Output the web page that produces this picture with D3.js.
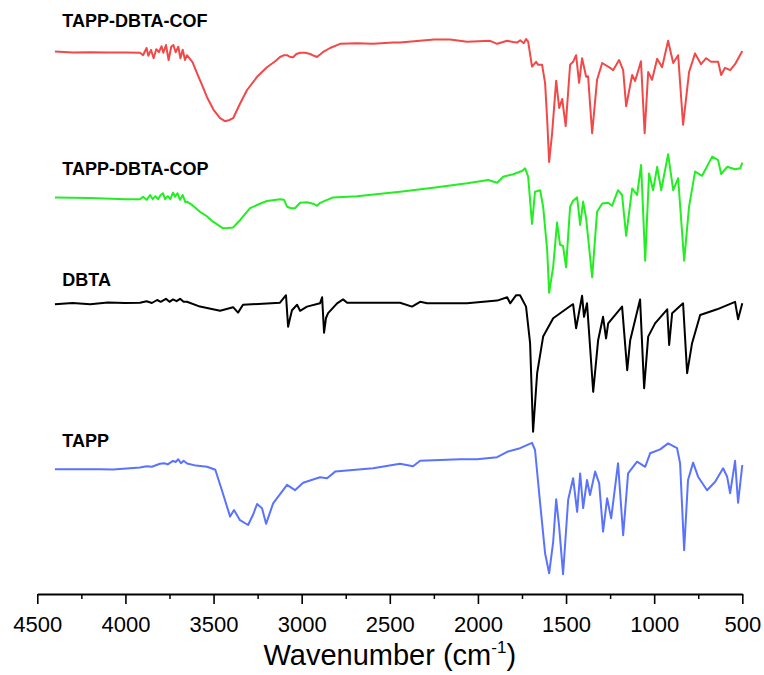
<!DOCTYPE html>
<html><head><meta charset="utf-8">
<script src="https://cdn.jsdelivr.net/npm/d3@7"></script>
<style>body{margin:0;background:#fff}svg{display:block}text{font-family:"Liberation Sans",Arial,sans-serif}</style>
</head><body><div id="chart"></div>
<script>
const seriesNames = ["TAPP-DBTA-COF","TAPP-DBTA-COP","DBTA","TAPP"];
const seriesColors = ["#F24848","#22EE22","#000000","#5A73FF"];
const xTicks = [4500,4000,3500,3000,2500,2000,1500,1000,500];
const xMinorTicks = [4250,3750,3250,2750,2250,1750,1250,750];

// [wavenumber, transmittance (a.u., offset)]
const cof = [[4400,90.4],[4300,90.25],[4200,90.3],[4100,90.25],[4000,90.25],[3917,90.2],[3900,89.8],[3880,91],[3870,89.7],[3855,90.7],[3840,89.3],[3825,90.8],[3810,90.3],[3795,91.3],[3785,90.2],[3770,91.5],[3755,89],[3740,91.2],[3728,91.5],[3715,90.3],[3700,91.2],[3688,89.3],[3675,90.7],[3662,89],[3651,89.8],[3620,88.7],[3594,86.8],[3565,84.8],[3537,82.8],[3500,80.7],[3463,79.3],[3435,78.8],[3410,79],[3389,79.3],[3350,81.7],[3310,84],[3250,86.3],[3197,87.8],[3150,88.8],[3123,89.5],[3100,89.8],[3083,89.8],[3065,89.5],[3049,89.45],[3030,90],[3009,90.2],[2980,90.2],[2952,90],[2930,89.7],[2913,89.5],[2880,90.3],[2839,91],[2782,91.7],[2686,91.8],[2595,91.7],[2481,91.9],[2442,91.9],[2249,92.4],[2158,92.4],[2061,92.05],[1931,92.2],[1891,91.7],[1834,92.2],[1800,92],[1778,91.9],[1760,92.3],[1740,91.8],[1727,92.5],[1715,92.05],[1693,87.9],[1670,88.7],[1658,88.2],[1636,88.2],[1619,85.2],[1607,79],[1596,72],[1579,76.8],[1556,85.55],[1539,81],[1522,82.5],[1502,78],[1477,88.2],[1460,88.7],[1443,89.8],[1426,85.2],[1409,89.3],[1386,86.2],[1375,86.3],[1352,76.8],[1324,85.7],[1295,88.5],[1250,87.7],[1233,87.3],[1199,89],[1176,87.3],[1159,81.3],[1125,86.5],[1108,85.5],[1075,88.8],[1054,76.8],[1034,87],[1012,85.7],[983,89.2],[955,87.8],[921,92.2],[892,88.5],[864,89.8],[836,78.2],[802,87],[768,90.1],[734,88.3],[705,89.3],[677,88.7],[637,88.7],[620,86.5],[598,87.7],[569,87.3],[541,88.3],[500,90.5]];

const cop = [[4400,66.1],[4200,66],[4000,65.8],[3917,65.8],[3900,66.2],[3880,65.7],[3860,66.5],[3845,65.8],[3830,66.3],[3815,65.8],[3800,66.5],[3787,66.8],[3775,65.8],[3760,66.3],[3745,65.8],[3730,66.9],[3718,66.2],[3705,66.8],[3690,65.7],[3675,66.5],[3660,65.3],[3651,65.4],[3620,64.8],[3577,63.7],[3540,63],[3503,62.05],[3446,60.95],[3420,61],[3389,61.1],[3350,62.3],[3293,64.3],[3240,65],[3197,65.5],[3123,65.8],[3100,65.7],[3083,64.55],[3060,64.3],[3038,64.3],[3009,65.2],[2970,65.3],[2930,65],[2913,64.7],[2895,65.2],[2879,65.4],[2822,66.1],[2686,66.3],[2442,67.05],[2254,67.7],[2061,68.45],[1942,69],[1891,68.55],[1857,69.55],[1800,69.95],[1750,70.5],[1732,70.95],[1715,69.55],[1693,61.7],[1676,67.05],[1647,67.3],[1630,64.55],[1607,57.3],[1596,50.2],[1573,54.55],[1551,61.9],[1534,58.2],[1517,58],[1500,54.45],[1477,64.55],[1460,65.55],[1437,66.1],[1420,61.5],[1403,65.4],[1386,62.6],[1352,52.8],[1324,63.7],[1295,65.1],[1261,65.2],[1239,64.7],[1205,67.3],[1182,66.5],[1159,59.7],[1125,67.6],[1097,66.5],[1074,71.5],[1051,55.55],[1029,70.1],[1006,67.3],[983,71.2],[960,67.3],[921,73.3],[892,67.3],[864,69.3],[830,55.55],[802,64.55],[768,70.4],[728,69.7],[671,72.9],[637,72.3],[620,70],[586,71.2],[541,70.8],[512,70.95],[500,71.9]];

const dbta = [[4400,48.3],[4300,48.5],[4200,48.3],[4100,48.6],[4000,48.5],[3917,48.55],[3880,48.8],[3850,48.5],[3820,49],[3800,48.7],[3770,49.2],[3750,48.7],[3730,49.1],[3710,48.8],[3690,49.2],[3670,48.7],[3651,48.7],[3577,47.9],[3463,47.2],[3389,47.8],[3361,46.9],[3333,48.2],[3123,48.55],[3089,49.8],[3077,44.55],[3068,45.7],[3055,47.3],[3026,48.2],[3009,47.2],[2970,47.9],[2896,48.45],[2884,49.45],[2873,43.55],[2862,46],[2850,46.8],[2799,48.45],[2765,49.1],[2742,48.55],[2442,48.55],[2374,47.9],[2328,48.7],[2288,48.45],[2061,48.45],[1891,48.9],[1834,49.45],[1817,48.45],[1783,49.8],[1761,49.8],[1727,47.9],[1704,41.8],[1687,27.05],[1664,36.8],[1630,42.9],[1573,45.95],[1466,48.2],[1460,48.3],[1443,44.3],[1409,49.7],[1398,46.2],[1381,48.45],[1346,33.7],[1318,42.3],[1290,46.2],[1273,42.6],[1261,45.1],[1182,47.9],[1153,37.3],[1136,42.3],[1080,49.1],[1057,34.3],[1034,42.9],[995,45.1],[926,47.45],[915,41.5],[898,46.8],[836,48.45],[813,36.8],[785,41.8],[739,46.5],[643,47.45],[541,48.7],[524,45.8],[500,48.45]];

const tapp = [[4400,20.8],[4144,20.8],[4070,20.75],[3917,21.1],[3880,21.3],[3850,21.2],[3804,21.7],[3780,21.8],[3760,21.6],[3730,22.2],[3715,22],[3700,22.45],[3685,21.8],[3670,22.2],[3650,21.75],[3600,21.4],[3537,21.2],[3490,20.7],[3450,17.05],[3406,12.9],[3384,14],[3350,12.3],[3304,11.5],[3276,13.2],[3253,15],[3225,14.3],[3202,11.7],[3162,15.1],[3083,18.2],[3038,17.3],[2992,18.55],[2896,19.45],[2856,19.3],[2810,20.4],[2595,20.95],[2442,21.7],[2368,21.3],[2328,22.2],[2101,22.45],[2005,22.45],[1891,22.8],[1834,23.7],[1761,24.3],[1693,25.2],[1676,24],[1647,15.1],[1619,6.8],[1596,3.45],[1573,8.7],[1556,15.8],[1539,11.2],[1517,3.3],[1488,15.7],[1460,19.3],[1437,13.7],[1420,20.1],[1403,14.3],[1381,19],[1364,16.5],[1335,20.4],[1312,18.45],[1290,10.4],[1267,15.95],[1244,12.6],[1205,21.8],[1176,9.8],[1148,20.1],[1097,22.05],[1051,21.2],[1023,23.45],[966,24.1],[921,25.1],[870,24.3],[853,21.8],[830,7.3],[808,19],[779,21.9],[751,19.55],[700,17.3],[654,18.7],[609,20.95],[586,19.55],[569,16.8],[541,22.2],[524,15.2],[500,21.5]];

const seriesData = [cof, cop, dbta, tapp];
const labelValues = [94.5, 69.8, 51.3, 24.5]; // label baseline levels (a.u.)

const W = 764, H = 675;
const margin = {left: 37.3, right: 21.7, top: 0, bottom: 81};
const svg = d3.select("#chart").append("svg").attr("width", W).attr("height", H);

const x = d3.scaleLinear().domain([4500, 500]).range([margin.left, W - margin.right]);
const y = d3.scaleLinear().domain([0, 99]).range([H - margin.bottom, margin.top]);

const line = d3.line().x(d => x(d[0])).y(d => y(d[1]));

seriesData.forEach((s, i) => {
  svg.append("path").datum(s)
    .attr("fill", "none")
    .attr("stroke", seriesColors[i])
    .attr("stroke-width", 2)
    .attr("stroke-linejoin", "round")
    .attr("d", line);
  svg.append("text")
    .attr("x", margin.left + 25)
    .attr("y", y(labelValues[i]))
    .attr("font-size", 18)
    .attr("font-weight", "bold")
    .attr("fill", "#000")
    .text(seriesNames[i]);
});

const axisY = H - margin.bottom;
// minor ticks
svg.append("g").attr("transform", `translate(0,${axisY})`)
  .call(d3.axisBottom(x).tickValues(xMinorTicks).tickSize(5).tickFormat(""))
  .call(g => g.select(".domain").remove())
  .call(g => g.selectAll("line").attr("stroke-width", 1.5));

const ax = svg.append("g").attr("transform", `translate(0,${axisY})`)
  .call(d3.axisBottom(x).tickValues(xTicks).tickSize(10).tickSizeOuter(0).tickPadding(12).tickFormat(d3.format("d")));
ax.select(".domain").attr("stroke-width", 2);
ax.selectAll("line").attr("stroke-width", 1.6);
ax.selectAll("text").attr("font-size", 22).attr("fill", "#000")
  .attr("font-family", '"Liberation Sans", Arial, sans-serif');

const title = svg.append("text")
  .attr("x", (x(4500) + x(500)) / 2)
  .attr("y", 665)
  .attr("text-anchor", "middle")
  .attr("font-size", 29)
  .attr("fill", "#000");
title.append("tspan").text("Wavenumber (cm");
title.append("tspan").attr("font-size", 17).attr("dy", -12).text("-1");
title.append("tspan").attr("dy", 12).text(")");
</script></body></html>
